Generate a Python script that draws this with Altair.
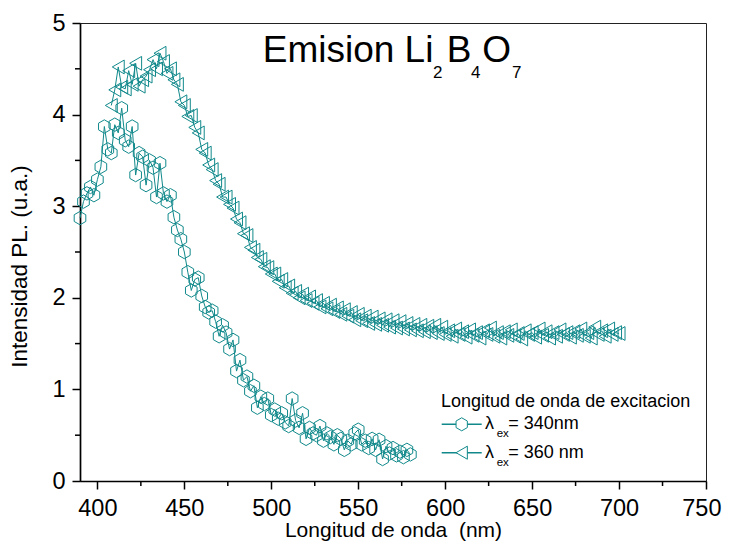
import altair as alt
import pandas as pd

# ---- data ----
x340 = list(range(390, 582, 2))
y340 = [2.87, 3.05, 3.14, 3.21, 3.12, 3.29, 3.43, 3.87, 3.62, 3.58,
        3.89, 3.80, 4.07, 3.72, 3.65, 3.87, 3.34, 3.58, 3.54, 3.23,
        3.50, 3.42, 3.10, 3.47, 3.14, 3.05, 3.12, 2.88, 2.74, 2.64,
        2.50, 2.28, 2.08, 2.20, 2.22, 2.02, 1.90, 1.84, 1.86, 1.74,
        1.58, 1.70, 1.62, 1.44, 1.54, 1.20, 1.32, 1.10, 1.14, 0.98,
        1.04, 0.80, 0.92, 0.84, 0.90, 0.72, 0.78, 0.68, 0.74, 0.64,
        0.60, 0.90, 0.66, 0.58, 0.74, 0.46, 0.58, 0.52, 0.50, 0.60,
        0.44, 0.52, 0.48, 0.40, 0.50, 0.46, 0.34, 0.44, 0.40, 0.52,
        0.56, 0.40, 0.44, 0.36, 0.46, 0.34, 0.45, 0.24, 0.38, 0.30,
        0.36, 0.28, 0.32, 0.26, 0.34, 0.29]

x360 = list(range(408, 702, 2))
y360 = [4.10, 4.27, 4.52, 4.30, 4.28, 4.48, 4.33, 4.56, 4.31, 4.38,
        4.42, 4.49, 4.60, 4.50, 4.67, 4.58, 4.45, 4.50, 4.38, 4.33,
        4.14, 4.10, 3.98, 3.99, 3.86, 3.80, 3.62, 3.58, 3.45, 3.40,
        3.28, 3.24, 3.10, 3.10, 3.02, 2.98, 2.86, 2.82, 2.70, 2.68,
        2.55, 2.52, 2.44, 2.42, 2.34, 2.33, 2.26, 2.26, 2.18, 2.20,
        2.11, 2.13, 2.05, 2.07, 2.00, 2.04, 1.97, 2.01, 1.94, 1.97,
        1.90, 1.94, 1.88, 1.92, 1.85, 1.89, 1.82, 1.87, 1.80, 1.84,
        1.76, 1.82, 1.75, 1.80, 1.72, 1.79, 1.71, 1.77, 1.70, 1.76,
        1.68, 1.75, 1.67, 1.74, 1.66, 1.72, 1.65, 1.71, 1.64, 1.70,
        1.63, 1.69, 1.62, 1.70, 1.61, 1.68, 1.60, 1.64, 1.58, 1.66,
        1.60, 1.63, 1.57, 1.65, 1.59, 1.62, 1.56, 1.64, 1.60, 1.67,
        1.58, 1.62, 1.56, 1.63, 1.59, 1.65, 1.58, 1.61, 1.55, 1.64,
        1.60, 1.62, 1.57, 1.66, 1.59, 1.63, 1.56, 1.62, 1.58, 1.65,
        1.60, 1.62, 1.57, 1.63, 1.59, 1.66, 1.58, 1.62, 1.56, 1.68,
        1.60, 1.64, 1.58, 1.66, 1.60, 1.62, 1.61]

x_major = [400, 450, 500, 550, 600, 650, 700, 750]
x_minor = [425, 475, 525, 575, 625, 675, 725]
y_major = [0, 1, 2, 3, 4, 5]
y_minor = [0.5, 1.5, 2.5, 3.5, 4.5]

x_title = "Longitud de onda \u00a0(nm)"
y_title = "Intensidad PL. (u.a.)"
legend_title = "Longitud de onda de excitacion"
legend_labels = ["= 340nm", "= 360 nm"]

# ---- style ----
W, H = 626, 458
TEAL = "#11898b"
FONT = "Liberation Sans"
HEX = "M0,-1L0.866,-0.5L0.866,0.5L0,1L-0.866,0.5L-0.866,-0.5Z"

xscale = alt.Scale(domain=[390, 750], nice=False, zero=False)
yscale = alt.Scale(domain=[0, 5], nice=False, zero=False)
xaxis = alt.Axis(values=x_major, title=x_title, grid=False, tickSize=8,
                 tickWidth=1.5, tickColor="black", domainColor="black",
                 domainWidth=1.7, labelFontSize=23.5, labelColor="black",
                 labelPadding=7, labelFlush=True, labelFlushOffset=15,
                 labelOverlap=False,
                 titleFontSize=21, titleFontWeight="normal", titleColor="black",
                 titlePadding=0, format="d")
yaxis = alt.Axis(values=y_major, title=y_title, grid=False, tickSize=8,
                 tickWidth=1.5, tickColor="black", domainColor="black",
                 domainWidth=1.7, labelFontSize=23.5, labelColor="black",
                 labelPadding=7, labelFlush=False, labelOverlap=False,
                 titleFontSize=22.5, titleFontWeight="normal", titleColor="black",
                 titlePadding=20, titleY=243, format="d")

def X(f="x"):
    return alt.X(f, type="quantitative", scale=xscale, axis=xaxis)

def Y(f="y"):
    return alt.Y(f, type="quantitative", scale=yscale, axis=yaxis)

df340 = pd.DataFrame({"x": x340, "y": y340})
df360 = pd.DataFrame({"x": x360, "y": y360})
dxm = pd.DataFrame({"x": x_minor})
dym = pd.DataFrame({"y": y_minor})
one = pd.DataFrame({"a": [0]})

minor_x = alt.Chart(dxm).mark_rule(color="black", strokeWidth=1.5).encode(
    x=X(), y=alt.value(H), y2=alt.value(H + 5))
minor_y = alt.Chart(dym).mark_rule(color="black", strokeWidth=1.5).encode(
    y=Y(), x=alt.value(-5), x2=alt.value(0))

line340 = alt.Chart(df340).mark_line(color=TEAL, strokeWidth=1).encode(x=X(), y=Y())
pts340 = alt.Chart(df340).mark_point(shape=HEX, size=180, filled=False,
                                     color=TEAL, strokeWidth=1, opacity=1).encode(x=X(), y=Y())
line360 = alt.Chart(df360).mark_line(color=TEAL, strokeWidth=1).encode(x=X(), y=Y())
pts360 = alt.Chart(df360).mark_point(shape="triangle-left", size=190, filled=False,
                                     color=TEAL, strokeWidth=1, opacity=1).encode(x=X(), y=Y())

def txt(s, x, y, size, align="left"):
    return alt.Chart(one).mark_text(font=FONT, fontSize=size, color="black",
                                    align=align, baseline="alphabetic").encode(
        x=alt.value(x), y=alt.value(y), text=alt.value(s))

title_layers = [
    txt("Emision Li", 182.7, 39, 37),
    txt("2", 353, 55, 17),
    txt("B", 366.7, 39, 37),
    txt("4", 391, 55, 17),
    txt("O", 402.3, 39, 37),
    txt("7", 432, 55, 17),
]

def seg(y):
    return alt.Chart(one).mark_rule(color=TEAL, strokeWidth=1.5).encode(
        x=alt.value(361.7), x2=alt.value(401.7), y=alt.value(y))

def sym(shape, y, size):
    return alt.Chart(one).mark_point(shape=shape, size=size, filled=True, fill="white",
                                     stroke=TEAL, strokeWidth=1, opacity=1).encode(
        x=alt.value(381.7), y=alt.value(y))

legend_layers = [
    txt(legend_title, 361, 384.3, 18),
    seg(401.3), sym(HEX, 401.3, 170),
    txt("\u03bb", 405, 406.3, 18), txt("ex", 416.7, 414.3, 11.5),
    txt(legend_labels[0], 428.3, 406.3, 18),
    seg(429.7), sym("triangle-left", 429.7, 170),
    txt("\u03bb", 405, 434.7, 18), txt("ex", 416.7, 443, 11.5),
    txt(legend_labels[1], 428.3, 434.7, 18),
]

chart = alt.layer(
    minor_x, minor_y, line340, line360, pts340, pts360,
    *title_layers, *legend_layers
).properties(
    width=W, height=H, autosize="none",
    padding={"left": 72, "top": 15, "right": 16, "bottom": 61},
    background="white",
).configure(font=FONT).configure_view(stroke="#222", strokeWidth=1)

chart.save("out.html", embed_options={"renderer": "svg", "actions": False})
